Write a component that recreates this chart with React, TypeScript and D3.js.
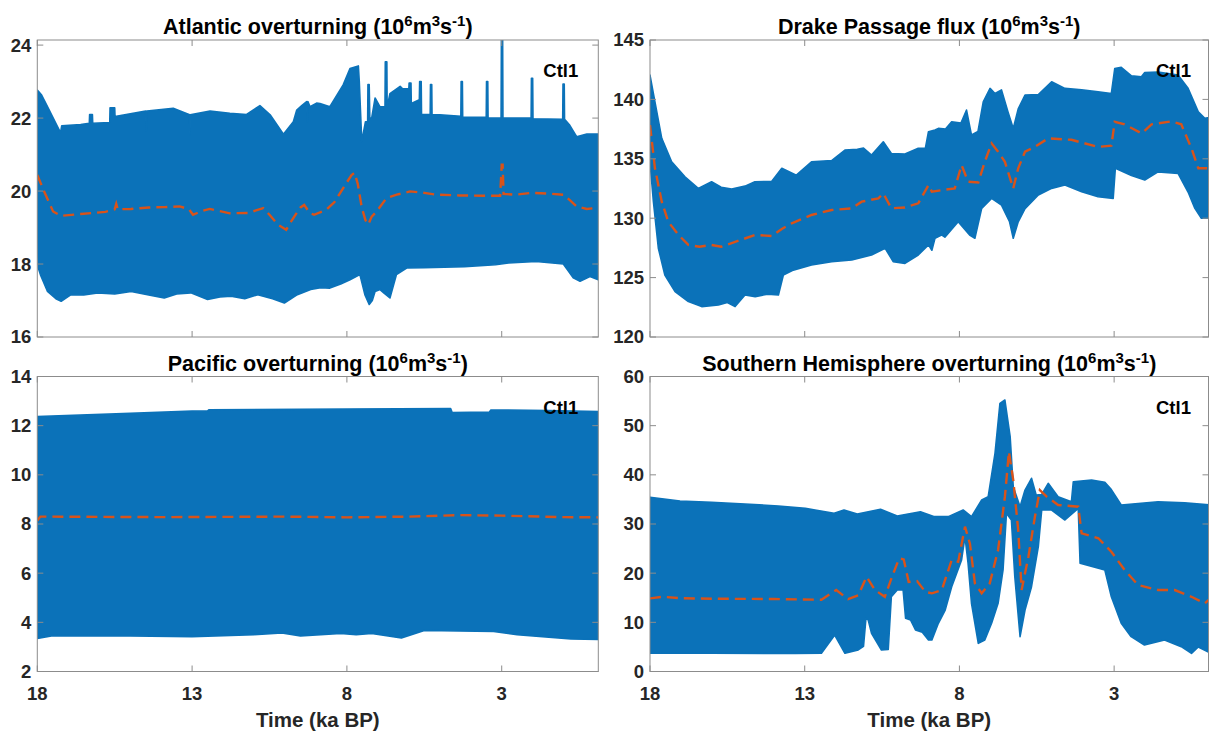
import React from 'react';
import * as d3 from 'd3';

type P = [number, number];

// ---------- tick labels ----------
const xTicks = [18, 13, 8, 3];
const atlanticTicks = [16, 18, 20, 22, 24];
const drakeTicks = [120, 125, 130, 135, 140, 145];
const pacificTicks = [2, 4, 6, 8, 10, 12, 14];
const southernTicks = [0, 10, 20, 30, 40, 50, 60];

// ---------- Atlantic overturning ----------
const atlanticUpper: P[] = [
  [18, 22.77], [17.86, 22.63], [17.59, 22.18], [17.32, 21.72], [17.25, 21.6], [17.21, 21.79], [16.6, 21.82],
  [16.32, 21.86], [16.31, 22.1], [16.22, 22.1], [16.21, 21.86], [15.66, 21.88], [15.65, 22.28], [15.5, 22.28],
  [15.49, 22.04], [14.5, 22.19], [14.48, 21.65], [14.46, 22.19], [13.61, 22.27], [13.08, 22.09], [13.07, 21.55],
  [13.06, 22.09], [12.42, 22.19], [11.78, 22.13], [11.24, 22.1], [10.81, 22.34], [10.48, 22.09], [10.05, 21.56],
  [9.73, 21.9], [9.62, 22.22], [9.45, 22.35], [9.3, 22.45], [9.28, 21.9], [9.26, 22.45], [9.19, 22.31],
  [8.98, 22.41], [8.87, 22.4], [8.55, 22.31], [8.12, 22.91], [7.9, 23.36], [7.63, 23.43], [7.6, 23.0],
  [7.52, 21.36], [7.4, 21.9], [7.33, 21.9], [7.32, 22.92], [7.28, 22.92], [7.26, 22.0], [7.2, 22.0],
  [7.09, 22.55], [6.93, 22.31], [6.77, 22.31], [6.76, 23.54], [6.71, 23.54], [6.7, 22.3], [6.61, 22.67],
  [6.28, 22.87], [6.2, 22.8], [6.0, 22.8], [5.99, 22.96], [5.93, 22.96], [5.92, 22.4], [5.66, 22.5],
  [5.65, 23.0], [5.6, 23.0], [5.59, 22.1], [5.31, 22.1], [5.3, 22.92], [5.26, 22.92], [5.25, 22.09],
  [5.0, 22.09], [4.32, 22.05], [4.31, 23.0], [4.27, 23.0], [4.26, 22.02], [3.5, 22.02], [3.49, 23.0],
  [3.45, 23.0], [3.44, 22.0], [3.02, 22.0], [3.01, 24.18], [2.97, 24.18], [2.96, 22.0], [2.05, 22.0],
  [2.04, 23.09], [2.0, 23.09], [1.99, 21.98], [1.03, 21.97], [1.02, 22.93], [0.98, 22.93], [0.97, 21.97],
  [0.8, 21.8], [0.58, 21.49], [0.25, 21.56], [-0.12, 21.56],
];
const atlanticLower: P[] = [
  [18, 18.6], [17.97, 17.9], [17.9, 17.71], [17.67, 17.25], [17.4, 17.05], [17.23, 16.98], [16.91, 17.16],
  [16.5, 17.15], [16.05, 17.21], [15.5, 17.18], [14.97, 17.25], [14.4, 17.15], [13.9, 17.07], [13.5, 17.18],
  [13.04, 17.21], [12.5, 17.03], [12.1, 17.1], [11.74, 17.12], [11.3, 17.05], [10.88, 17.16], [10.4, 17.05],
  [10.02, 16.93], [9.6, 17.16], [9.17, 17.3], [8.85, 17.35], [8.55, 17.34], [8.2, 17.45], [7.9, 17.57],
  [7.58, 17.71], [7.42, 17.16], [7.28, 16.89], [7.18, 17.0], [7.09, 17.25], [6.93, 17.3], [6.8, 17.2],
  [6.61, 17.07], [6.4, 17.71], [6.07, 17.89], [5.5, 17.9], [4.2, 17.93], [3.2, 17.98], [2.78, 18.03],
  [1.89, 18.07], [1.01, 18.0], [0.69, 17.62], [0.47, 17.53], [0.15, 17.66], [-0.12, 17.57],
];
const atlanticMean: P[] = [
  [18, 20.44], [17.8, 20.03], [17.49, 19.44], [17.23, 19.32], [16.6, 19.37], [15.8, 19.43], [15.5, 19.5],
  [15.45, 19.65], [15.4, 19.5], [14.98, 19.51], [14.4, 19.55], [13.9, 19.56], [13.4, 19.58], [13.1, 19.5],
  [12.97, 19.35], [12.7, 19.45], [12.43, 19.51], [12.1, 19.45], [11.78, 19.39], [11.2, 19.4], [10.7, 19.53],
  [10.5, 19.35], [10.23, 19.08], [9.96, 18.94], [9.85, 19.1], [9.7, 19.3], [9.5, 19.55], [9.38, 19.62],
  [9.2, 19.4], [9.06, 19.35], [8.66, 19.49], [8.4, 19.7], [8.12, 20.08], [7.85, 20.44], [7.75, 20.5],
  [7.65, 20.2], [7.52, 19.55], [7.4, 19.2], [7.31, 19.08], [7.2, 19.3], [7.04, 19.44], [6.72, 19.81],
  [6.39, 19.9], [5.96, 19.99], [5.5, 19.95], [5.1, 19.9], [4.35, 19.88], [3.6, 19.87], [3.05, 19.87],
  [3.0, 20.72], [2.97, 20.72], [2.94, 19.92], [2.56, 19.9], [2.03, 19.95], [1.5, 19.93], [1.01, 19.9],
  [0.8, 19.75], [0.58, 19.58], [0.25, 19.51], [-0.12, 19.54],
];

// ---------- Drake Passage flux ----------
const drakeUpper: P[] = [
  [18, 142.04], [17.84, 139.8], [17.62, 136.72], [17.3, 134.75], [16.87, 133.49], [16.44, 132.51],
  [16.01, 133.07], [15.7, 132.6], [15.36, 132.46], [14.93, 132.7], [14.61, 133.07], [14.07, 133.1],
  [13.74, 134.2], [13.27, 133.62], [12.78, 134.75], [12.13, 134.85], [11.7, 135.74], [11.3, 135.8],
  [11.1, 135.9], [10.84, 135.32], [10.46, 136.43], [10.2, 135.45], [9.76, 135.4], [9.33, 135.88],
  [9.1, 135.9], [9.0, 137.28], [8.79, 137.42], [8.68, 137.56], [8.45, 137.5], [8.25, 138.12], [7.95, 138.0],
  [7.77, 139.1], [7.61, 137.0], [7.4, 137.3], [7.23, 139.8], [7.01, 140.93], [6.85, 140.5], [6.64, 140.8],
  [6.43, 138.95], [6.26, 137.56], [6.1, 139.2], [5.88, 140.36], [5.45, 140.4], [5.02, 141.48], [4.59, 140.93],
  [4.05, 140.8], [3.52, 140.64], [3.09, 140.5], [2.98, 142.6], [2.77, 142.7], [2.44, 141.98], [2.12, 141.9],
  [2.01, 142.26], [1.58, 142.3], [0.93, 142.04], [0.61, 140.93], [0.28, 138.96], [0.07, 138.4], [-0.12, 138.5],
];
const drakeLower: P[] = [
  [18, 134.75], [17.89, 131.39], [17.73, 127.47], [17.52, 125.22], [17.19, 123.82], [16.76, 122.98],
  [16.33, 122.56], [15.79, 122.7], [15.5, 122.9], [15.25, 122.56], [14.93, 123.54], [14.6, 123.4],
  [14.2, 123.6], [13.85, 123.54], [13.69, 125.22], [13.4, 125.6], [12.78, 126.06], [12.13, 126.34],
  [11.48, 126.48], [10.84, 126.9], [10.4, 127.47], [10.14, 126.34], [9.76, 126.2], [9.33, 126.9],
  [9.0, 127.75], [8.89, 127.3], [8.79, 128.3], [8.58, 128.59], [8.47, 128.4], [8.04, 129.7], [7.67, 128.59],
  [7.5, 128.31], [7.28, 130.83], [6.96, 131.67], [6.64, 131.1], [6.38, 129.7], [6.26, 128.31], [6.1, 129.7],
  [5.88, 130.8], [5.45, 131.95], [5.02, 132.51], [4.59, 132.8], [4.05, 132.23], [3.52, 131.81],
  [3.03, 131.67], [2.96, 134.2], [2.44, 133.6], [2.01, 133.21], [1.58, 133.9], [0.93, 133.76],
  [0.61, 132.2], [0.39, 130.83], [0.18, 129.99], [-0.12, 129.99],
];
const drakeMean: P[] = [
  [18, 137.84], [17.84, 134.2], [17.62, 131.39], [17.41, 129.7], [17.08, 128.59], [16.76, 127.75],
  [16.4, 127.6], [16.01, 127.75], [15.7, 127.6], [15.36, 127.9], [14.61, 128.59], [14.07, 128.5],
  [13.74, 129.1], [13.42, 129.57], [12.78, 130.27], [12.13, 130.69], [11.48, 130.83], [11.16, 131.39],
  [10.62, 131.67], [10.46, 132.09], [10.2, 130.83], [9.76, 130.9], [9.33, 131.25], [9.0, 132.79],
  [8.89, 132.23], [8.46, 132.4], [8.15, 132.51], [7.93, 134.47], [7.72, 133.07], [7.39, 133.0],
  [7.18, 134.75], [6.96, 136.3], [6.75, 135.6], [6.53, 134.75], [6.26, 132.51], [6.1, 134.2], [5.88, 135.6],
  [5.56, 136.01], [5.13, 136.72], [4.38, 136.6], [3.52, 136.0], [3.09, 136.1], [2.98, 138.12],
  [2.66, 137.9], [2.11, 137.14], [1.79, 137.9], [1.15, 138.15], [0.83, 137.9], [0.5, 135.88],
  [0.28, 134.2], [-0.12, 134.2],
];

// ---------- Pacific overturning ----------
const pacificUpper: P[] = [
  [18, 12.37], [15, 12.5], [13.0, 12.59], [12.5, 12.6], [12.45, 12.65], [8, 12.68], [4.65, 12.7],
  [4.6, 12.53], [3.4, 12.55], [3.35, 12.64], [1.5, 12.62], [-0.12, 12.57],
];
const pacificLower: P[] = [
  [18, 3.34], [17.5, 3.46], [15, 3.45], [13, 3.42], [11, 3.5], [10.1, 3.57], [9.5, 3.45], [8.2, 3.55],
  [7.7, 3.5], [7.2, 3.55], [6.24, 3.36], [5.5, 3.67], [3.26, 3.63], [2.5, 3.5], [0.76, 3.32], [-0.12, 3.3],
];
const pacificMean: P[] = [
  [18, 8.14], [17.9, 8.3], [14, 8.28], [10, 8.3], [8, 8.27], [6, 8.3], [4.4, 8.36], [3, 8.34], [1, 8.28],
  [-0.12, 8.27],
];

// ---------- Southern Hemisphere overturning ----------
const southernUpper: P[] = [
  [18, 35.43], [17.03, 34.68], [16.01, 34.4], [14.93, 34.07], [13.85, 33.66], [12.98, 33.18], [12.05, 32.17],
  [11.73, 32.85], [11.3, 32.04], [10.55, 32.99], [10.01, 31.63], [9.26, 32.5], [8.83, 31.5], [8.36, 31.5],
  [7.88, 32.85], [7.61, 31.5], [7.28, 34.88], [7.07, 35.56], [6.85, 44.37], [6.69, 54.55], [6.53, 55.22],
  [6.36, 47.76], [6.26, 37.58], [6.04, 33.51], [5.88, 36.9], [5.67, 39.29], [5.52, 35.9], [5.34, 36.0],
  [5.13, 38.27], [4.81, 35.56], [4.38, 34.54], [4.32, 38.6], [3.73, 38.93], [3.3, 38.5], [3.09, 37.0],
  [2.77, 33.86], [1.58, 34.54], [0.72, 34.3], [-0.12, 33.86],
];
const southernLower: P[] = [
  [18, 3.7], [16.01, 3.73], [13.31, 3.66], [12.46, 3.7], [12.03, 7.42], [11.7, 3.7], [11.27, 4.4],
  [11.1, 5.1], [11.02, 10.82], [10.95, 10.5], [10.84, 7.76], [10.52, 4.37], [10.3, 4.5], [10.2, 15.21],
  [10.01, 16.57], [9.82, 16.57], [9.74, 10.82], [9.58, 10.5], [9.42, 8.44], [9.2, 8.0], [9.0, 6.41],
  [8.89, 6.41], [8.68, 9.8], [8.46, 12.5], [8.25, 17.25], [7.93, 22.68], [7.82, 27.42], [7.72, 22.0],
  [7.61, 13.87], [7.39, 5.73], [7.18, 6.4], [6.96, 9.8], [6.75, 13.87], [6.59, 20.65], [6.48, 32.17],
  [6.32, 30.8], [6.21, 19.3], [6.04, 7.08], [5.88, 12.5], [5.67, 17.25], [5.45, 25.38], [5.34, 32.85],
  [5.02, 32.85], [4.59, 30.81], [4.16, 33.17], [4.1, 22.0], [3.3, 20.65], [3.09, 15.21], [2.77, 9.8],
  [2.45, 7.08], [2.02, 5.39], [1.37, 6.41], [0.83, 5.05], [0.5, 3.7], [0.28, 5.0], [-0.12, 3.7],
];
const southernMean: P[] = [
  [18, 14.88], [17.6, 15.2], [17, 14.9], [16, 14.8], [14, 14.74], [12.46, 14.6], [11.98, 16.57], [11.6, 14.7],
  [11.27, 15.5], [11.0, 19.28], [10.73, 16.57], [10.41, 15.2], [10.2, 18.9], [9.95, 23.0], [9.8, 22.8],
  [9.64, 18.2], [9.37, 18.4], [9.1, 16.2], [8.89, 15.9], [8.57, 16.57], [8.25, 22.68], [8.04, 22.3],
  [7.82, 29.45], [7.66, 26.0], [7.5, 17.93], [7.28, 15.9], [7.02, 17.93], [6.75, 24.71], [6.53, 35.55],
  [6.4, 44.7], [6.26, 38.94], [6.1, 28.78], [5.99, 16.57], [5.77, 23.34], [5.56, 31.48], [5.4, 36.9],
  [5.18, 35.56], [4.81, 33.86], [4.16, 33.52], [4.05, 28.1], [3.51, 27.1], [3.09, 24.37], [2.66, 20.65],
  [2.23, 17.6], [1.58, 16.57], [1.04, 16.57], [0.5, 15.2], [0.07, 13.87], [-0.12, 14.9],
];

const BLUE = '#0b72b9';
const ORANGE = '#d95319';
const AXIS = '#8c8c8c';
const TEXT = '#262626';
const FONT = '"Liberation Sans", Arial, Helvetica, sans-serif';

type PanelCfg = {
  id: string;
  title: string;
  x0: number; x1: number; y0: number; y1: number;
  xEnd: number;
  yDomain: [number, number];
  yTicks: number[];
  upper: P[]; lower: P[]; mean: P[];
  xLabels: boolean;
};

const panels: PanelCfg[] = [
  { id: 'atl', title: 'Atlantic overturning', x0: 37.3, x1: 598.3, y0: 40, y1: 337, xEnd: -0.12,
    yDomain: [16, 24.14], yTicks: atlanticTicks, upper: atlanticUpper, lower: atlanticLower, mean: atlanticMean, xLabels: false },
  { id: 'drk', title: 'Drake Passage flux', x0: 650, x1: 1208.5, y0: 40, y1: 337, xEnd: -0.05,
    yDomain: [120, 145], yTicks: drakeTicks, upper: drakeUpper, lower: drakeLower, mean: drakeMean, xLabels: false },
  { id: 'pac', title: 'Pacific overturning', x0: 37.3, x1: 598.3, y0: 376.5, y1: 671.5, xEnd: -0.12,
    yDomain: [2, 14], yTicks: pacificTicks, upper: pacificUpper, lower: pacificLower, mean: pacificMean, xLabels: true },
  { id: 'sh', title: 'Southern Hemisphere overturning', x0: 650, x1: 1208.5, y0: 376.5, y1: 671.5, xEnd: -0.05,
    yDomain: [0, 60], yTicks: southernTicks, upper: southernUpper, lower: southernLower, mean: southernMean, xLabels: true },
];

function Panel({ cfg }: { cfg: PanelCfg }) {
  const x = d3.scaleLinear().domain([18, cfg.xEnd]).range([cfg.x0, cfg.x1]);
  const y = d3.scaleLinear().domain(cfg.yDomain).range([cfg.y1, cfg.y0]);
  const line = d3.line<P>().x((d) => x(d[0])).y((d) => y(d[1]));
  const band = line([...cfg.upper, ...cfg.lower.slice().reverse()]) + 'Z';
  const meanPath = line(cfg.mean) || '';
  const cx = (cfg.x0 + cfg.x1) / 2;
  const tl = 6;
  const sup = 15;
  return (
    <g>
      <defs>
        <clipPath id={'clip-' + cfg.id}>
          <rect x={cfg.x0} y={cfg.y0} width={cfg.x1 - cfg.x0} height={cfg.y1 - cfg.y0} />
        </clipPath>
      </defs>
      <g clipPath={`url(#clip-${cfg.id})`}>
        <path d={band} fill={BLUE} stroke={BLUE} strokeWidth={1.6} strokeLinejoin="round" />
        <path d={meanPath} fill="none" stroke={ORANGE} strokeWidth={2.4} strokeDasharray="11 6" />
      </g>
      <rect x={cfg.x0} y={cfg.y0} width={cfg.x1 - cfg.x0} height={cfg.y1 - cfg.y0} fill="none" stroke={AXIS} strokeWidth={1} />
      {cfg.yTicks.map((t) => (
        <g key={'y' + t}>
          <line x1={cfg.x0} x2={cfg.x0 + tl} y1={y(t)} y2={y(t)} stroke={AXIS} />
          <line x1={cfg.x1} x2={cfg.x1 - tl} y1={y(t)} y2={y(t)} stroke={AXIS} />
          <text x={cfg.x0 - 6} y={y(t)} dy="0.35em" textAnchor="end" fontSize={18.5} fontWeight="bold" fill={TEXT} fontFamily={FONT}>{t}</text>
        </g>
      ))}
      {xTicks.map((t) => (
        <g key={'x' + t}>
          <line x1={x(t)} x2={x(t)} y1={cfg.y1} y2={cfg.y1 - tl} stroke={AXIS} />
          <line x1={x(t)} x2={x(t)} y1={cfg.y0} y2={cfg.y0 + tl} stroke={AXIS} />
          {cfg.xLabels && (
            <text x={x(t)} y={cfg.y1 + 28.5} textAnchor="middle" fontSize={18.5} fontWeight="bold" fill={TEXT} fontFamily={FONT}>{t}</text>
          )}
        </g>
      ))}
      <text x={cx} y={cfg.y0 - 6} textAnchor="middle" fontSize={21.5} fontWeight="bold" fill="#000" fontFamily={FONT}>
        {cfg.title + ' (10'}
        <tspan fontSize={sup} dy={-8}>6</tspan>
        <tspan dy={8}>m</tspan>
        <tspan fontSize={sup} dy={-8}>3</tspan>
        <tspan dy={8}>s</tspan>
        <tspan fontSize={sup} dy={-8}>-1</tspan>
        <tspan dy={8}>)</tspan>
      </text>
      <text x={cfg.x0 + 506} y={cfg.y0 + 37} fontSize={18.5} fontWeight="bold" fill="#000" fontFamily={FONT}>Ctl1</text>
      {cfg.xLabels && (
        <text x={cx} y={727} textAnchor="middle" fontSize={20.5} fontWeight="bold" fill={TEXT} fontFamily={FONT}>Time (ka BP)</text>
      )}
    </g>
  );
}

export default function App() {
  return (
    <svg width={1210} height={735} style={{ position: 'absolute', left: 0, top: 0, background: '#fff' }}>
      <rect width={1210} height={735} fill="#fff" />
      {panels.map((p) => <Panel key={p.id} cfg={p} />)}
    </svg>
  );
}
